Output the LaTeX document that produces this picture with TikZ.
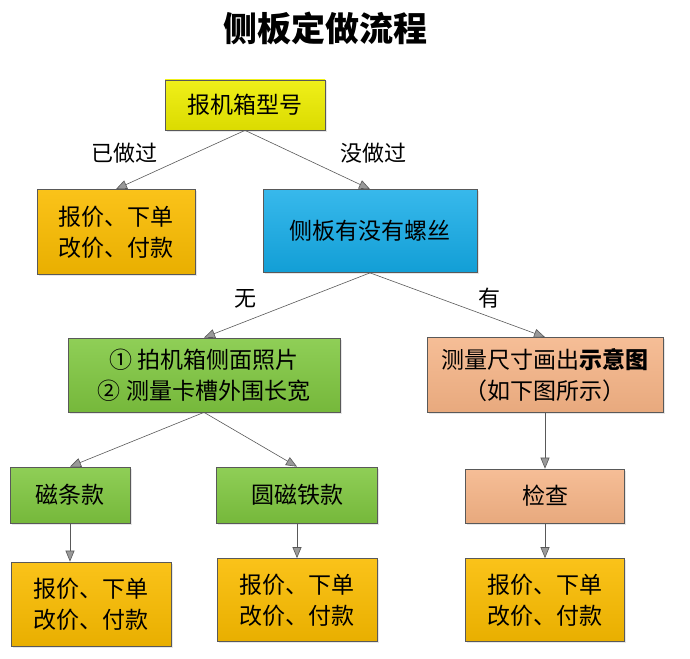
\documentclass[tikz,border=0pt]{standalone}
\usepackage{fontspec}
\setmainfont{Noto Sans CJK SC}
\usetikzlibrary{arrows.meta, positioning, shadows}

\definecolor{boxyellow}{RGB}{238,238,0}
\definecolor{boxorange}{RGB}{250,188,0}
\definecolor{boxblue}{RGB}{20,172,232}
\definecolor{boxgreen}{RGB}{128,200,64}
\definecolor{boxsalmon}{RGB}{244,178,132}

\begin{document}
\begin{tikzpicture}[x=1pt, y=1pt, on grid,
    box/.style={draw=black!65, line width=0.7pt, align=center, inner sep=0pt,
      font=\fontsize{23}{31}\selectfont,
      drop shadow={opacity=0.2, shadow xshift=1.5pt, shadow yshift=-1.5pt}},
    yellowbox/.style={box, top color=boxyellow!90!white, bottom color=boxyellow!92!black},
    orangebox/.style={box, top color=boxorange!90!white, bottom color=boxorange!93!black},
    bluebox/.style={box, top color=boxblue!85!white, bottom color=boxblue!92!black},
    greenbox/.style={box, top color=boxgreen!88!white, bottom color=boxgreen!92!black},
    salmonbox/.style={box, top color=boxsalmon!85!white, bottom color=boxsalmon!95!black},
    flow/.style={draw=black!65, line width=0.6pt,
      -{Triangle[length=11pt, width=9pt, fill=black!40]}},
    lbl/.style={font=\fontsize{22}{22}\selectfont}]
  \useasboundingbox (0,0) rectangle (690,-658);
  % top of the chart
  \node[yellowbox, minimum width=160pt, minimum height=50pt] (A) at (245,-105) {报机箱型号};
  \node[font=\fontsize{34}{34}\selectfont\bfseries] (title) [above right=77pt and 80pt of A] {侧板定做流程};
  \node[orangebox, minimum width=158pt, minimum height=85pt] (B) [below left=127pt and 129pt of A] {报价、下单\\改价、付款};
  \node[bluebox, minimum width=214pt, minimum height=83pt] (C) [below right=126pt and 125pt of A] {侧板有没有螺丝};
  % second level
  \node[greenbox, minimum width=272pt, minimum height=74pt] (D) [below left=144pt and 166pt of C] {① 拍机箱侧面照片\\② 测量卡槽外围长宽};
  \node[salmonbox, minimum width=236pt, minimum height=75pt] (E) [below right=144pt and 175pt of C] {测量尺寸画出\textbf{示意图}\\（如下图所示）};
  \node[greenbox, minimum width=120pt, minimum height=56pt] (F1) [below left=120pt and 134pt of D] {磁条款};
  \node[greenbox, minimum width=161pt, minimum height=56pt] (F2) [below right=120pt and 93pt of D] {圆磁铁款};
  \node[salmonbox, minimum width=159pt, minimum height=54pt] (G) [below=121pt of E] {检查};
  % bottom row
  \node[orangebox, minimum width=160pt, minimum height=84pt] (H1) [below right=109pt and 21pt of F1] {报价、下单\\改价、付款};
  \node[orangebox, minimum width=160pt, minimum height=83pt] (H2) [below=105pt of F2] {报价、下单\\改价、付款};
  \node[orangebox, minimum width=159pt, minimum height=83pt] (H3) [below=104pt of G] {报价、下单\\改价、付款};
  \path[every edge/.style={flow}]
    (A.south) edge node[lbl, pos=0.62, above left, xshift=-4pt] {已做过} (B.north)
              edge node[lbl, pos=0.62, above right, xshift=14pt] {没做过} (C.north)
    (C.south) edge node[lbl, pos=0.6, above left, xshift=-10pt] {无} (D.north)
              edge node[lbl, pos=0.6, above right] {有} (E.north)
    (D.south) edge (F1.north)
              edge (F2.north)
    (E) edge (G)
    (G) edge (H3)
    (F1) edge (F1.south |- H1.north)
    (F2) edge (H2);
\end{tikzpicture}
\end{document}
